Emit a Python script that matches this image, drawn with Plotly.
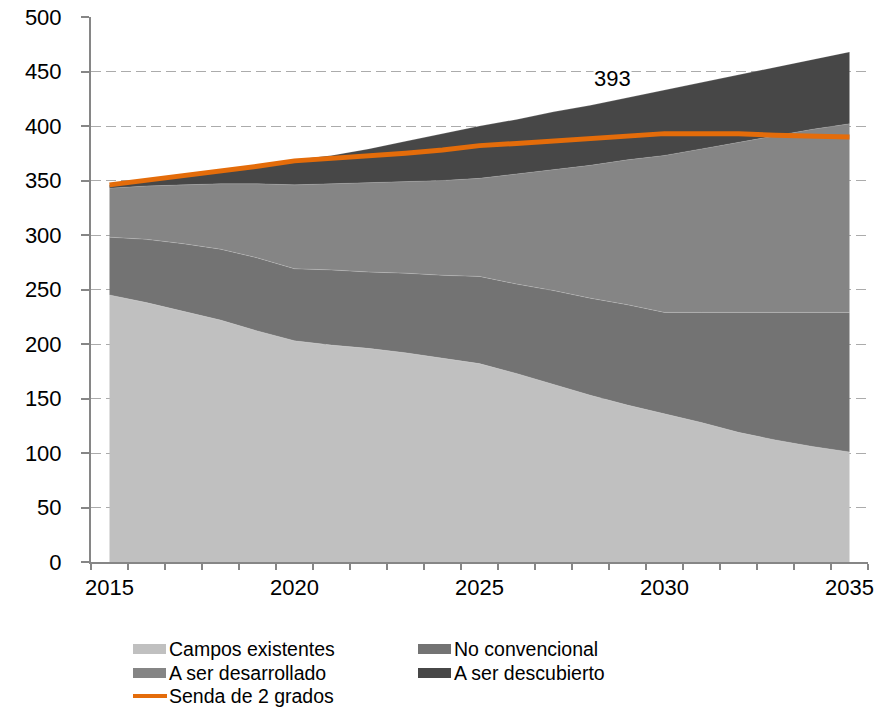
import plotly.graph_objects as go

# Years on the horizontal axis
years = list(range(2015, 2036))

# Stacked supply components
campos_existentes = [245, 238, 230, 222, 212, 203, 199, 196, 192, 187, 182,
                     173, 163, 153, 144, 136, 128, 119, 112, 106, 101]
no_convencional = [53, 58, 62, 65, 67, 66, 69, 70, 73, 76, 80,
                   82, 86, 89, 92, 93, 101, 110, 117, 123, 128]
a_ser_desarrollado = [45, 49, 54, 60, 68, 77, 79, 82, 84, 87, 90,
                      101, 111, 122, 133, 144, 150, 156, 162, 168, 173]
a_ser_descubierto = [3, 5, 8, 11, 16, 23, 26, 31, 37, 43, 48,
                     50, 53, 55, 57, 60, 61, 62, 63, 64, 66]

# 2-degree pathway
senda_2_grados = [346, 350, 355, 359, 363, 368, 370, 372, 375, 378, 382,
                  384, 386, 388, 390.5, 393, 393, 393, 391.5, 391, 390]

y_ticks = list(range(0, 501, 50))
x_labels = [2015, 2020, 2025, 2030, 2035]

FONT = "Liberation Sans, Arial, sans-serif"
ORANGE = "#E46C0A"

areas = [
    ("Campos existentes", campos_existentes, "#C0C0C0"),
    ("No convencional", no_convencional, "#737373"),
    ("A ser desarrollado", a_ser_desarrollado, "#858585"),
    ("A ser descubierto", a_ser_descubierto, "#474747"),
]

W, H = 890, 714
M = dict(l=91, r=22, t=17, b=152)
PW = W - M["l"] - M["r"]
PH = H - M["t"] - M["b"]


def px_x(px):
    """Horizontal pixel position -> paper coordinate."""
    return (px - M["l"]) / PW


def px_y(py):
    """Vertical pixel position (from top) -> paper coordinate."""
    return (H - M["b"] - py) / PH


fig = go.Figure()
for name, vals, color in areas:
    fig.add_trace(go.Scatter(
        x=years, y=vals, name=name, mode="lines",
        stackgroup="supply", fillcolor=color,
        line=dict(width=0.5, color="rgba(255,255,255,0.35)"),
        hoverinfo="skip",
    ))

fig.add_trace(go.Scatter(
    x=years, y=senda_2_grados, name="Senda de 2 grados", mode="lines",
    line=dict(color=ORANGE, width=5),
))

# Peak label of the pathway
peak_year = 2030
peak_val = senda_2_grados[years.index(peak_year)]
fig.add_annotation(
    x=2028.6, y=444, text=f"{peak_val:g}", showarrow=False,
    font=dict(size=22, color="#000000", family=FONT),
    bgcolor="#FFFFFF", borderpad=0,
)

# Legend below the plot: two columns, three rows
legend_items = [(name, color, "box") for name, _, color in areas]
legend_items.append(("Senda de 2 grados", ORANGE, "line"))
col_x = [133, 418]
row_y = [649, 673, 696]
swatch_w = 33
for i, (label, color, kind) in enumerate(legend_items):
    cx = col_x[i % 2]
    ry = row_y[i // 2]
    if kind == "box":
        fig.add_shape(type="rect", xref="paper", yref="paper",
                      x0=px_x(cx), x1=px_x(cx + swatch_w),
                      y0=px_y(ry + 5), y1=px_y(ry - 5),
                      fillcolor=color, line=dict(width=0))
    else:
        fig.add_shape(type="line", xref="paper", yref="paper",
                      x0=px_x(cx), x1=px_x(cx + swatch_w + 1),
                      y0=px_y(ry), y1=px_y(ry),
                      line=dict(color=color, width=4))
    fig.add_annotation(
        xref="paper", yref="paper", x=px_x(cx + swatch_w + 1), y=px_y(ry),
        xanchor="left", yanchor="middle", text=label, showarrow=False,
        font=dict(size=19.5, family=FONT, color="#000000"),
    )

fig.update_layout(
    width=W, height=H,
    margin=M,
    plot_bgcolor="#FFFFFF", paper_bgcolor="#FFFFFF",
    font=dict(family=FONT, size=19, color="#000000"),
    showlegend=False,
    xaxis=dict(
        range=[2014.5, 2035.5], automargin=False,
        tickmode="array", tickvals=x_labels,
        ticktext=[str(v) for v in x_labels],
        ticks="", showgrid=False, zeroline=False,
        showline=True, linecolor="#868686", linewidth=2,
        tickfont=dict(size=22, family=FONT),
        ticklabelstandoff=5,
        minor=dict(tickmode="linear", tick0=2014.5, dtick=1,
                   ticks="outside", ticklen=6, tickwidth=1.5,
                   tickcolor="#868686", showgrid=False),
    ),
    yaxis=dict(
        range=[0, 500], automargin=False,
        tickmode="array", tickvals=y_ticks,
        ticks="outside", ticklen=8, tickwidth=1.5, tickcolor="#868686",
        showline=True, linecolor="#868686", linewidth=2,
        showgrid=True, gridcolor="#ABABAB", gridwidth=1,
        griddash="10px,5px", zeroline=False,
        tickfont=dict(size=22, family=FONT),
        ticklabelstandoff=15,
    ),
)

fig.write_html("out.html")
